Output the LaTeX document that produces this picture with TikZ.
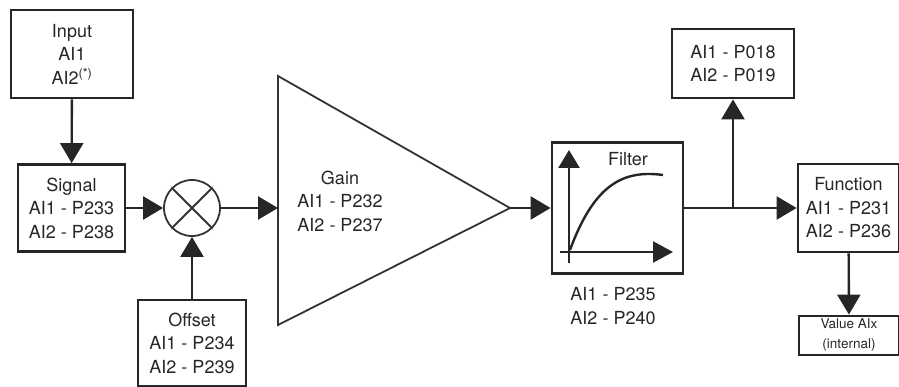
\documentclass[tikz,border=0pt]{standalone}
\usepackage{fontspec}
\setmainfont{TeX Gyre Heros}
\usetikzlibrary{arrows.meta}

\begin{document}
\begin{tikzpicture}[
        x=1pt, y=-1pt,
        block/.style={draw=black!85, line width=2.8pt, align=center, inner sep=0pt,
                      font=\fontsize{18}{23.5}\selectfont, text=black!85},
        plain text/.style={align=center, font=\fontsize{18}{23.5}\selectfont, text=black!85},
        wire/.style={line width=2.4pt, draw=black!85},
        arrow/.style={wire, -{Triangle[length=20pt,width=23pt]}},
        outline/.style={line width=1.8pt, draw=black!80}
        ]
        \useasboundingbox (0,0) rectangle (899,387);

        \node[block, minimum width=122pt, minimum height=88pt] (input) at (72,54) {Input\\AI1\\AI2\textsuperscript{(*)}};
        \node[block, minimum width=107pt, minimum height=87pt] (signal) at (71.5,208) {Signal\\AI1 - P233\\AI2 - P238};
        \node[draw=black!80, circle, line width=1.8pt, minimum size=56pt, inner sep=0pt] (mix) at (192,208) {};
        \draw[outline] (mix.north west) -- (mix.south east) (mix.north east) -- (mix.south west);
        \node[block, minimum width=108pt, minimum height=86pt] (offset) at (192,343) {Offset\\AI1 - P234\\AI2 - P239};

        % gain
        \coordinate (gain in) at (278,208);
        \coordinate (gain tip) at (510,208);
        \draw[outline] (278,76) -- (gain tip) -- (278,325) -- cycle;
        \node[plain text] (gain) at (340,201) {Gain\\AI1 - P232\\AI2 - P237};

        % filter
        \node[block, minimum size=131pt] (filter) at (617.5,208) {};
        \draw[wire, -{Triangle[length=18pt,width=21pt]}] (569,263) -- (569,150);
        \draw[wire, -{Triangle[length=20pt,width=21pt]}] (560,252) -- (673,252);
        \draw[wire] (570,250) .. controls (595,182) and (625,170) .. (663,175);
        \node[plain text] (filter title) at (628,159) {Filter};
        \node[plain text] (filter par) at (613,306) {AI1 - P235\\AI2 - P240};

        \node[block, minimum width=122pt, minimum height=69pt] (read) at (733,63.5) {AI1 - P018\\AI2 - P019};
        \coordinate (split) at (733,208);
        \node[block, minimum width=101pt, minimum height=88pt] (function) at (848.5,208) {Function\\AI1 - P231\\AI2 - P236};
        \node[block, minimum width=100pt, minimum height=39pt,
              font=\fontsize{13.5}{20}\selectfont] (value) at (849,335.5) {Value AIx\\(internal)};

        \draw[arrow] (input) -- (signal);
        \draw[arrow] (signal) -- (mix);
        \draw[arrow] (offset) -- (mix);
        \draw[arrow] (mix) -- (gain in);
        \draw[arrow] (gain tip) -- (filter);
        \draw[wire] (filter) -- (split);
        \draw[arrow] (split) -- (read);
        \draw[arrow] (split) -- (function);
        \draw[arrow] (function) -- (value);
\end{tikzpicture}
\end{document}
